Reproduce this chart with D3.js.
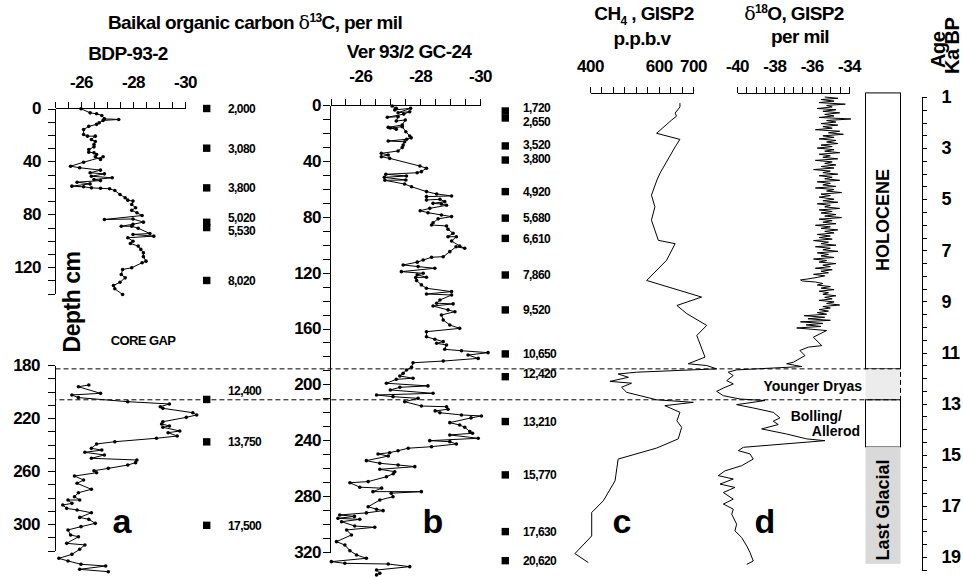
<!DOCTYPE html>
<meta charset="utf-8">
<style>
    body {
        margin: 0;
        background-color: #ffffff;
    }

    svg text {
        font-family: "Liberation Sans", Arial, sans-serif;
        font-weight: bold;
        fill: #000;
    }

    .axis path,
    .axis line {
        fill: none;
        stroke: #000;
        stroke-width: 1px;
        shape-rendering: crispEdges;
    }

    .axis text {
        font-family: "Liberation Sans", Arial, sans-serif;
        font-size: 17px;
        font-weight: bold;
        letter-spacing: -0.5px;
    }

    .labels path {
        display: none;
    }

    .curve {
        fill: none;
        stroke: #000;
        stroke-width: 1px;
    }

    .dot {
        fill: #000;
    }

    .date {
        font-size: 12px;
        letter-spacing: -0.6px;
    }
</style>

<body>
    <svg width="963" height="577"></svg>
    <script src="https://d3js.org/d3.v7.min.js"></script>
    <script>
        // ---- data ----

        // a: BDP-93-2, [depth cm, d13C per mil], upper and lower part (core gap between)
        var coreA_top = [[0.2,-26.0],[3.3,-26.35],[4,-26.6],[5.3,-26.8],[7.8,-26.9],[8.3,-27.45],[9,-26.85],[10.8,-26.7],[12,-26.6],[13.5,-26.3],[15.9,-26.1],[19.6,-26.1],[20.9,-26.25],[20.9,-26.55],[23.4,-26.4],[25,-26.55],[27.2,-26.5],[29,-26.5],[31,-26.3],[33,-26.3],[33.5,-26.5],[34.8,-26.6],[36.5,-26.55],[38.5,-26.75],[36.5,-26.85],[40.6,-26.1],[43.6,-25.6],[44.8,-25.95],[46.6,-26.75],[48.6,-26.35],[49.4,-26.9],[51.2,-26.4],[52.4,-27.2],[53.7,-26.5],[54.5,-26.75],[55.7,-25.85],[57,-26.35],[58.7,-25.65],[59.2,-26.1],[60,-26.4],[60.3,-26.75],[60.7,-27.1],[62,-27.3],[65,-27.5],[67.5,-27.7],[69.3,-27.8],[70,-28.0],[72.6,-27.95],[75,-28.1],[77,-27.95],[78.8,-28.15],[80.9,-28.35],[83.9,-26.9],[83.5,-28.0],[85.9,-28.4],[87.5,-28.0],[89,-27.55],[89,-27.95],[90.5,-28.2],[94.5,-28.65],[95.2,-28.0],[96.5,-28.8],[97.7,-27.8],[100.3,-28.0],[102,-27.9],[104,-28.2],[106.5,-28.3],[109,-28.4],[112,-28.4],[115.4,-28.5],[116.6,-28.35],[120.4,-27.95],[121.7,-27.6],[125.5,-27.55],[128,-27.7],[131.3,-27.5],[133.8,-27.25],[136.3,-27.3],[140.6,-27.6]];
        var coreA_bottom = [[195.1,-26.3],[196.4,-25.9],[201.4,-26.75],[202.6,-25.65],[204.6,-25.9],[207.7,-27.8],[209.4,-29.4],[211.5,-29.05],[212.7,-29.15],[216,-30.3],[217.7,-30.45],[219.5,-30.05],[222.8,-29.15],[224.5,-29.1],[226,-29.4],[227,-29.15],[229.8,-29.8],[231.1,-29.35],[233.6,-29.7],[235.3,-28.9],[237.9,-27.3],[239.6,-26.6],[242.9,-26.4],[244.2,-26.8],[245.9,-26.15],[247.9,-26.9],[250.4,-26.4],[251.7,-28.15],[253.7,-28.1],[255.5,-27.8],[258,-27.05],[259.8,-26.5],[261.3,-26.6],[263.8,-25.75],[266.8,-26.1],[269.3,-25.85],[273.8,-26.4],[276.4,-25.9],[279.4,-25.75],[281.9,-25.95],[281.9,-25.5],[284.4,-25.65],[285.7,-25.3],[288.2,-25.45],[289.4,-25.85],[291.5,-26.4],[295,-25.95],[296.5,-26.3],[299.5,-26.55],[302,-26.0],[304.5,-25.5],[308.3,-25.6],[309.6,-25.9],[314.6,-25.45],[315.8,-26.15],[319.1,-25.95],[322.9,-25.65],[325.9,-25.15],[327.9,-25.5],[330.4,-26.0],[331.7,-26.95],[334.2,-25.95],[336,-27.05]];

        // b: Ver 93/2 GC-24, [depth cm, d13C per mil]
        var coreB = [[0.7,-27.06],[2.4,-27.2],[3.5,-27.15],[2.4,-27.68],[5.5,-27.26],[4.8,-27.65],[6.5,-27.45],[8.8,-26.9],[8.4,-27.26],[11.5,-27.2],[10.7,-27.5],[14.3,-27.4],[16,-26.93],[17.4,-27.2],[16.5,-27.0],[15.5,-27.4],[19.1,-27.52],[22.2,-27.65],[23.5,-27.7],[24.5,-27.55],[25.8,-26.93],[26.3,-27.48],[28.6,-27.43],[30.5,-27.4],[32.9,-27.26],[34.6,-26.7],[35.8,-26.93],[37,-26.7],[38.2,-26.98],[43.7,-27.99],[45.3,-28.21],[47.7,-28.04],[48.5,-27.9],[49.6,-26.85],[50.8,-27.54],[51.8,-26.8],[53.7,-27.52],[53.9,-26.82],[56.6,-27.48],[58.5,-27.71],[62,-28.21],[63.7,-28.55],[65.1,-29.05],[65.6,-28.21],[68,-28.21],[67.5,-28.66],[69.2,-28.82],[70.4,-28.43],[70.9,-28.71],[71.8,-28.88],[74,-28.32],[75.7,-28.0],[77.1,-28.26],[78.7,-28.71],[79.9,-29.05],[81.5,-28.6],[84.3,-28.43],[85.9,-28.38],[86.6,-28.88],[89,-28.93],[91.9,-29.1],[94.3,-28.93],[94.3,-29.21],[97.4,-29.05],[100.9,-29.32],[102.6,-29.49],[101.5,-29.2],[105,-28.99],[108.6,-28.77],[109,-28.38],[111,-28.1],[112.5,-27.9],[114.5,-27.43],[115.7,-27.93],[116.9,-28.49],[119.3,-27.37],[120.5,-28.1],[121.5,-27.9],[123.3,-28.21],[123.5,-27.85],[125.7,-27.88],[128.8,-28.04],[131.2,-28.21],[133.6,-29.05],[135.3,-28.21],[136,-29.05],[139.6,-28.66],[141.9,-28.55],[142.4,-29.1],[143.9,-28.43],[146.7,-28.93],[148,-29.16],[150.3,-28.71],[153.9,-28.77],[157.5,-28.99],[159.9,-29.32],[162.3,-28.21],[165.9,-28.21],[167.7,-28.49],[169.4,-28.77],[170.6,-28.55],[171.8,-28.88],[174.9,-28.82],[175.9,-29.38],[177.3,-30.27],[179,-29.6],[181.4,-29.94],[183.3,-28.77],[184.5,-27.76],[187.8,-27.71],[189.7,-27.54],[192.1,-27.43],[194,-27.32],[195.6,-27.76],[196.4,-27.2],[199.2,-26.87],[201.1,-28.26],[202.1,-27.32],[204,-27.0],[206.4,-28.43],[207.6,-26.54],[208.8,-27.09],[210,-27.93],[212.4,-27.48],[215.5,-28.04],[216,-28.88],[217.8,-28.93],[219,-28.5],[220.3,-28.66],[221.9,-29.38],[222.6,-30.05],[224,-29.7],[227.4,-28.99],[229.1,-29.32],[230.7,-29.49],[233.8,-29.66],[235,-29.75],[236.2,-28.99],[238.6,-29.94],[240.3,-28.32],[241,-28.99],[242.7,-29.21],[244.6,-28.38],[245.7,-27.6],[247.5,-27.26],[248.9,-26.98],[249.8,-26.59],[251.3,-26.93],[254.6,-26.2],[256.5,-26.65],[257.7,-27.26],[258.9,-27.82],[260.8,-26.65],[262.5,-27.15],[264,-27.1],[266.1,-26.87],[269.6,-26.26],[270.4,-25.65],[273.6,-25.98],[274.3,-26.71],[276.8,-26.42],[276.8,-28.04],[277.9,-27.03],[280.4,-27.09],[282.8,-26.65],[287.6,-26.26],[289.4,-26.54],[290.4,-26.76],[292,-26.2],[293.5,-25.31],[294.5,-25.8],[295.9,-25.25],[296.6,-25.98],[298.3,-25.37],[301.4,-25.81],[302.3,-26.48],[304.2,-25.54],[307.8,-25.7],[312.6,-25.2],[315,-25.48],[319.1,-25.65],[322.1,-25.87],[324.5,-26.2],[326.9,-25.03],[328.1,-25.48],[328.6,-26.93],[330.5,-27.65],[332.9,-26.54],[335.2,-26.65],[336.4,-26.54]];

        // radiocarbon dates (label, depth cm)
        var datesA = ["2,000", "3,080", "3,800", "5,020", "5,530", "8,020", "12,400", "13,750", "17,500"];
        var dateDepthA = [0, 30, 60, 86, 90, 130, 206, 238, 301];
        var datesB = ["1,720", "2,650", "3,520", "3,800", "4,920", "5,680", "6,610", "7,860", "9,520", "10,650", "12,420", "13,210", "15,770", "17,630", "20,620"];
        var dateDepthB = [4.3, 9.3, 29.3, 39.4, 62, 81, 95.5, 121.7, 146.7, 178.2, 194.5, 226.6, 264.8, 305.4, 326.2];

        // c: GISP2 CH4, [age ka BP, ppbv]
        var ch4 = [[1.24,662],[1.39,662],[1.63,648],[1.75,652],[1.9,638],[2.42,594],[2.66,662],[2.95,648],[3.98,604],[4.25,595],[4.84,579],[5.3,589],[5.82,579],[6.61,599],[6.74,648],[7.39,623],[8.18,565],[8.83,725],[9.16,653],[9.48,682],[9.94,740],[10.33,711],[11.18,735],[11.44,686],[11.51,740],[11.64,769],[11.77,536],[11.84,482],[11.97,512],[12.13,458],[12.2,521],[12.36,492],[12.56,507],[12.85,594],[12.95,701],[13.08,618],[13.34,662],[13.67,653],[13.93,667],[14.38,657],[14.74,594],[15.17,482],[16.02,473],[16.8,439],[17.26,405],[18.18,405],[18.87,356],[19.22,395]];

        // d: GISP2 d18O, [age ka BP, per mil]
        var d18O = [[1.00,-35.3],[1.05,-34.6],[1.10,-35.5],[1.16,-34.8],[1.22,-35.6],[1.28,-34.2],[1.33,-35.2],[1.39,-34.9],[1.45,-35.7],[1.50,-34.7],[1.56,-35.4],[1.62,-34.5],[1.68,-35.3],[1.74,-34.8],[1.80,-35.6],[1.86,-33.9],[1.92,-35.2],[1.98,-34.7],
            [2.04,-35.5],[2.10,-34.6],[2.16,-35.4],[2.22,-34.9],[2.28,-35.8],[2.34,-34.5],[2.40,-35.1],[2.46,-34.3],[2.52,-35.4],[2.58,-34.8],[2.64,-35.6],[2.70,-34.7],[2.76,-35.2],[2.82,-34.6],[2.88,-35.5],[2.94,-34.9],
            [3.00,-35.7],[3.06,-34.8],[3.12,-35.3],[3.18,-34.5],[3.24,-35.6],[3.30,-35.0],[3.36,-35.4],[3.42,-34.6],[3.48,-35.8],[3.54,-34.9],[3.60,-35.3],[3.66,-34.7],[3.72,-35.5],[3.78,-34.8],[3.84,-35.9],[3.90,-35.0],
            [3.96,-35.4],[4.02,-34.6],[4.08,-35.6],[4.14,-34.9],[4.20,-35.3],[4.26,-34.5],[4.32,-35.7],[4.38,-35.0],[4.44,-35.4],[4.50,-34.7],[4.56,-35.8],[4.62,-34.8],[4.68,-35.2],[4.74,-34.4],[4.80,-35.5],[4.86,-35.0],[4.92,-35.6],
            [5.00,-34.8],[5.06,-35.4],[5.12,-34.6],[5.18,-35.7],[5.24,-35.0],[5.30,-35.3],[5.36,-34.5],[5.42,-35.6],[5.48,-34.9],[5.54,-35.5],[5.60,-34.7],[5.66,-35.3],[5.72,-34.4],[5.78,-35.6],[5.84,-34.9],[5.90,-35.4],
            [5.96,-34.7],[6.02,-35.8],[6.08,-35.0],[6.14,-35.5],[6.20,-34.6],[6.26,-35.3],[6.32,-34.8],[6.38,-35.7],[6.44,-35.0],[6.50,-35.6],[6.56,-34.9],[6.62,-35.9],[6.68,-35.1],[6.74,-35.5],[6.80,-34.7],[6.86,-35.8],[6.92,-35.0],
            [6.98,-35.4],[7.04,-34.6],[7.10,-35.7],[7.16,-35.1],[7.22,-35.5],[7.28,-34.8],[7.34,-35.9],[7.40,-35.2],[7.46,-35.6],[7.52,-34.7],[7.58,-35.4],[7.64,-35.0],[7.70,-35.8],[7.76,-34.9],[7.82,-35.5],[7.88,-35.1],[7.94,-35.9],[8.00,-35.3],[8.06,-35.7],
            [8.12,-36.2],[8.16,-36.6],[8.20,-36.5],[8.24,-35.8],[8.30,-35.4],[8.36,-35.7],[8.42,-35.0],[8.48,-35.5],[8.54,-34.8],[8.60,-35.6],[8.66,-35.1],[8.72,-35.4],[8.78,-34.7],[8.84,-35.3],[8.90,-34.9],[8.96,-35.6],[9.02,-34.8],[9.08,-35.2],[9.14,-34.5],[9.20,-35.4],[9.26,-35.0],
            [9.32,-35.6],[9.38,-35.1],[9.44,-35.7],[9.50,-35.2],[9.56,-36.4],[9.62,-35.3],[9.68,-36.2],[9.74,-35.0],[9.80,-36.6],[9.86,-35.4],[9.92,-36.3],[9.98,-35.5],[10.04,-36.8],[10.14,-35.2],
            [10.40,-35.91],[10.73,-35.46],[10.79,-36.18],[10.92,-36.63],[11.12,-36.36],[11.38,-36.98],[11.44,-37.34],[11.55,-36.53],[11.68,-40.02],[11.77,-40.47],[11.90,-40.20],[12.10,-40.55],[12.23,-40.20],[12.36,-40.64],[12.52,-41.09],[12.69,-40.73],[12.82,-39.84],[12.88,-38.50],[13.04,-40.02],[13.17,-39.13],[13.34,-38.06],[13.56,-37.70],[13.69,-38.06],[13.82,-37.79],[13.99,-38.68],[14.19,-37.34],[14.38,-36.27],[14.45,-35.29],[14.71,-39.66],[14.84,-39.93],[14.97,-39.30],[15.17,-39.13],[15.43,-39.75],[15.63,-40.64],[15.82,-41.00],[15.95,-40.20],[16.15,-40.91],[16.28,-40.11],[16.48,-40.73],[16.74,-40.20],[16.93,-40.73],[17.13,-40.20],[17.33,-40.28],[17.72,-40.02],[17.98,-40.11],[18.24,-39.75],[18.57,-39.48],[18.83,-39.30],[19.16,-39.13],[19.29,-39.48]];

        // climate stages, ages ka BP
        var stageNames = ["HOLOCENE", "Younger Dryas", "Bolling/Allerod", "Last Glacial"];
        var stageStart = [0.84, 11.64, 12.85, 14.7];
        var stageEnd = [11.64, 12.85, 14.7, 19.27];

        var c13Ticks = [-26, -28, -30];
        var depthTicksA1 = [0, 40, 80, 120];
        var depthTicksA2 = [180, 220, 260, 300];
        var depthTicksB = [0, 40, 80, 120, 160, 200, 240, 280, 320];
        var ch4Ticks = [400, 600, 700];
        var d18OTicks = [-40, -38, -36, -34];
        var ageTicks = [1, 3, 5, 7, 9, 11, 13, 15, 17, 19];

        // ---- scales ----
        var svg = d3.select("svg");

        var xa = d3.scaleLinear().domain([-25, -30]).range([55, 185]);
        var ya1 = d3.scaleLinear().domain([0, 140]).range([108.5, 293.7]);
        var ya2 = d3.scaleLinear().domain([180, 320]).range([365, 550.5]);
        var xb = d3.scaleLinear().domain([-25, -30]).range([330.5, 480]);
        var yb = d3.scaleLinear().domain([0, 320]).range([105, 552]);
        var xc = d3.scaleLinear().domain([400, 700]).range([590, 693]);
        var xd = d3.scaleLinear().domain([-40, -34]).range([737, 849]);
        var yAge = d3.scaleLinear().domain([1, 19.5]).range([97, 569.7]);

        var plain = function(d) { return String(d); };

        // ---- helpers ----
        function topAxis(scale, y, step, labels, pad, from, to) {
            svg.append("g").attr("class", "axis").attr("transform", "translate(0," + y + ")")
                .call(d3.axisTop(scale).tickValues(d3.range(from, to + step / 2, step)).tickSize(6).tickSizeOuter(0).tickFormat(""));
            svg.append("g").attr("class", "axis labels").attr("transform", "translate(0," + y + ")")
                .call(d3.axisTop(scale).tickValues(labels).tickSize(0).tickPadding(pad).tickFormat(plain));
        }

        function leftAxis(scale, x, from, to, labels, pad) {
            svg.append("g").attr("class", "axis").attr("transform", "translate(" + x + ",0)")
                .call(d3.axisLeft(scale).tickValues(d3.range(from, to + 1, 10)).tickSize(7).tickSizeOuter(0).tickFormat(""));
            svg.append("g").attr("class", "axis labels").attr("transform", "translate(" + x + ",0)")
                .call(d3.axisLeft(scale).tickValues(labels).tickSize(0).tickPadding(pad).tickFormat(plain));
        }

        function series(data, xs, ys, dots) {
            var line = d3.line().x(function(d) { return xs(d[1]); }).y(function(d) { return ys(d[0]); });
            svg.append("path").datum(data).attr("class", "curve").attr("d", line);
            if (dots) {
                svg.append("g").selectAll("circle").data(data).enter().append("circle")
                    .attr("class", "dot").attr("r", 1.8)
                    .attr("cx", function(d) { return xs(d[1]); })
                    .attr("cy", function(d) { return ys(d[0]); });
            }
        }

        function dates(labels, depths, ys, sx, tx, nudge) {
            var g = svg.append("g");
            labels.forEach(function(t, i) {
                var y = ys(depths[i]);
                g.append("rect").attr("x", sx - 3.7).attr("y", y - 3.7).attr("width", 7.4).attr("height", 7.4).attr("fill", "#000");
                g.append("text").attr("class", "date").attr("x", tx).attr("y", y + (nudge[t] || 0)).attr("dy", "0.36em").text(t);
            });
        }

        function depthY(d) { return d < 160 ? ya1(d) : ya2(d); }

        // ---- stage column ----
        var colX = 865.5, colW = 35;
        var stageFill = ["#ffffff", "#ececec", "#ffffff", "#d9d9d9"];
        stageNames.forEach(function(n, i) {
            svg.append("rect").attr("x", colX).attr("y", yAge(stageStart[i])).attr("width", colW)
                .attr("height", yAge(stageEnd[i]) - yAge(stageStart[i]))
                .attr("fill", stageFill[i])
                .attr("stroke", i == 0 || i == 2 ? "#000" : "none").attr("stroke-width", 1);
        });
        svg.append("text").attr("transform", "translate(889," + ((yAge(stageStart[0]) + yAge(stageEnd[0])) / 2 - 11) + ") rotate(-90)")
            .attr("text-anchor", "middle").style("font-size", "18px").text(stageNames[0]);
        svg.append("text").attr("transform", "translate(889,510) rotate(-90)")
            .attr("text-anchor", "middle").style("font-size", "18px").text(stageNames[3]);

        // Younger Dryas dashed band across all panels
        svg.append("rect").attr("x", 55.5).attr("y", yAge(stageStart[1])).attr("width", 845)
            .attr("height", yAge(stageEnd[1]) - yAge(stageStart[1]))
            .attr("fill", "none").attr("stroke", "#000").attr("stroke-dasharray", "5,3");

        svg.append("text").attr("x", 862).attr("y", 391).attr("text-anchor", "end").style("font-size", "14px").text("Younger Dryas");
        svg.append("text").attr("x", 842).attr("y", 421).attr("text-anchor", "end").style("font-size", "14px").text("Bolling/");
        svg.append("text").attr("x", 860).attr("y", 436).attr("text-anchor", "end").style("font-size", "14px").text("Allerod");

        // ---- panel a ----
        topAxis(xa, 108, -0.5, c13Ticks, 20, -25, -30);
        leftAxis(ya1, 55, 0, 140, depthTicksA1, 14);
        leftAxis(ya2, 55, 180, 320, depthTicksA2, 15);
        series(coreA_top, xa, ya1, true);
        series(coreA_bottom, xa, ya2, true);
        dates(datesA, dateDepthA, depthY, 206.7, 228, {"5,020": -5, "5,530": 3.5, "12,400": -9});

        // ---- panel b ----
        topAxis(xb, 105, -0.5, c13Ticks, 23, -25, -30);
        leftAxis(yb, 330, 0, 320, depthTicksB, 9);
        series(coreB, xb, yb, true);
        dates(datesB, dateDepthB, yb, 505.3, 523, {"1,720": -3, "2,650": 4, "3,520": -1.5, "3,800": -1, "12,420": -3.5});

        // ---- panel c ----
        topAxis(xc, 92.5, 300 / 9, ch4Ticks, 21, 400, 700);
        series(ch4, xc, yAge, false);

        // ---- panel d ----
        topAxis(xd, 92.5, 0.5, d18OTicks, 21, -40, -34);
        series(d18O, xd, yAge, false);

        // ---- age axis ----
        svg.append("g").attr("class", "axis").attr("transform", "translate(921.5,0)")
            .call(d3.axisRight(yAge).tickValues(d3.range(1, 19.6, 0.5)).tickSize(5).tickSizeOuter(0).tickFormat(""));
        svg.append("g").attr("class", "axis labels").attr("transform", "translate(921.5,0)")
            .call(d3.axisRight(yAge).tickValues(ageTicks).tickSize(0).tickPadding(20).tickFormat(plain))
            .selectAll("text").style("font-size", "18px");

        // ---- titles ----
        var t = svg.append("text").attr("x", 108).attr("y", 29).style("font-size", "19px").style("letter-spacing", "-0.6px");
        t.append("tspan").text("Baikal organic carbon ");
        t.append("tspan").style("font-family", "'DejaVu Serif', serif").style("font-weight", "normal").text("δ");
        t.append("tspan").attr("dy", -7).style("font-size", "12px").text("13");
        t.append("tspan").attr("dy", 7).text("C, per mil");

        svg.append("text").attr("x", 128).attr("y", 60).attr("text-anchor", "middle").style("font-size", "19px").style("letter-spacing", "-0.6px").text("BDP-93-2");
        svg.append("text").attr("x", 409).attr("y", 58).attr("text-anchor", "middle").style("font-size", "19px").style("letter-spacing", "-0.6px").text("Ver 93/2 GC-24");

        var c = svg.append("text").attr("x", 644).attr("y", 20).attr("text-anchor", "middle").style("font-size", "19px").style("letter-spacing", "-0.6px");
        c.append("tspan").text("CH");
        c.append("tspan").attr("dy", 5).style("font-size", "12px").text("4");
        c.append("tspan").attr("dy", -5).text(" , GISP2");
        svg.append("text").attr("x", 642).attr("y", 45).attr("text-anchor", "middle").style("font-size", "19px").style("letter-spacing", "-0.6px").text("p.p.b.v");

        var o = svg.append("text").attr("x", 794).attr("y", 20).attr("text-anchor", "middle").style("font-size", "19px").style("letter-spacing", "-0.6px");
        o.append("tspan").style("font-family", "'DejaVu Serif', serif").style("font-weight", "normal").text("δ");
        o.append("tspan").attr("dy", -7).style("font-size", "12px").text("18");
        o.append("tspan").attr("dy", 7).text("O, GISP2");
        svg.append("text").attr("x", 800).attr("y", 43).attr("text-anchor", "middle").style("font-size", "19px").style("letter-spacing", "-0.6px").text("per mil");

        svg.append("text").attr("transform", "translate(945,68) rotate(-90)").style("font-size", "20px").style("letter-spacing", "-0.5px").text("Age");
        svg.append("text").attr("transform", "translate(958.5,74) rotate(-90)").style("font-size", "20px").style("letter-spacing", "-0.5px").text("Ka BP");

        svg.append("text").attr("transform", "translate(80,302) rotate(-90)").attr("text-anchor", "middle").style("font-size", "23px").style("letter-spacing", "-0.5px").text("Depth cm");
        svg.append("text").attr("x", 143).attr("y", 345).attr("text-anchor", "middle").style("font-size", "13px").style("letter-spacing", "-0.6px").text("CORE GAP");

        // panel letters
        var letters = ["a", "b", "c", "d"], letterX = [122, 433, 622, 765];
        letters.forEach(function(l, i) {
            svg.append("text").attr("x", letterX[i]).attr("y", 533).attr("text-anchor", "middle").style("font-size", "34px").text(l);
        });
    </script>
</body>
